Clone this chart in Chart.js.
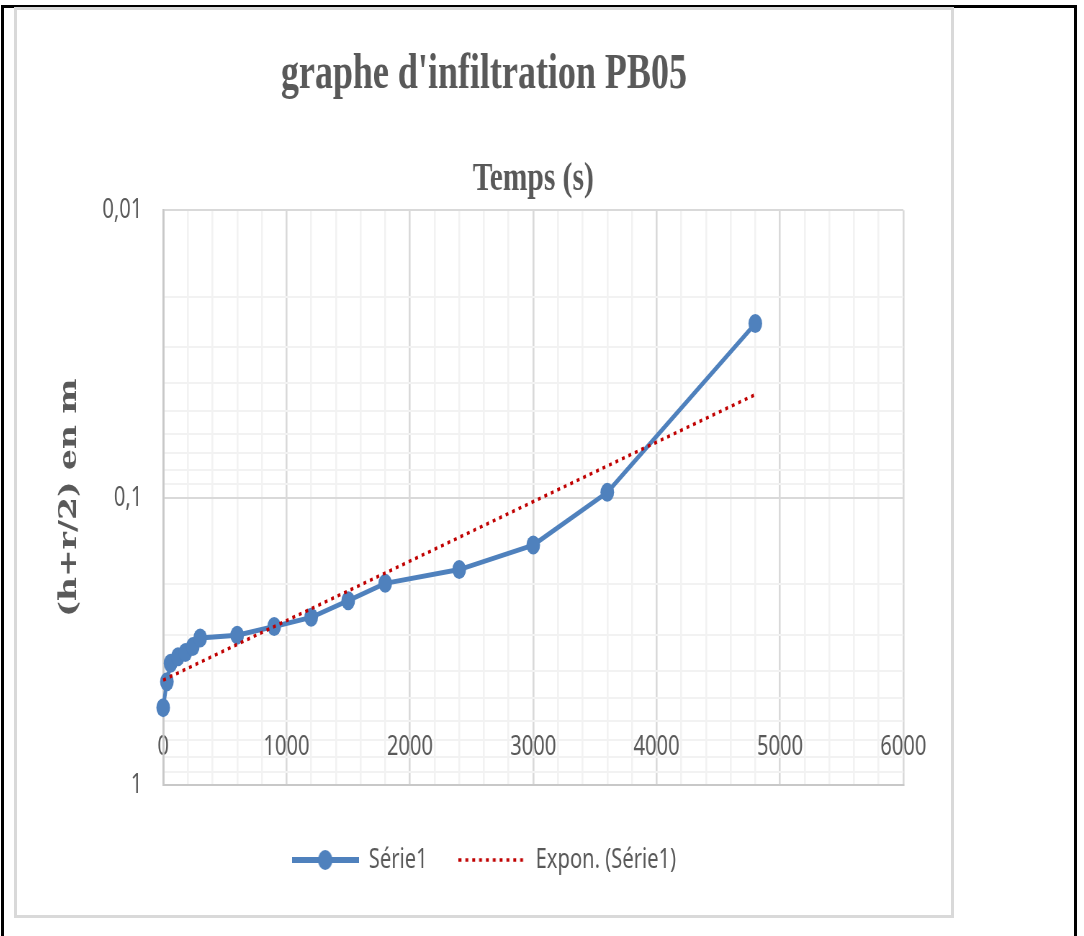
<!DOCTYPE html>
<html>
<head>
<meta charset="utf-8">
<script src="https://cdn.jsdelivr.net/npm/chart.js@4.4.1/dist/chart.umd.min.js"></script>
<style>
  html, body { margin: 0; padding: 0; background: #fff; }
  body { width: 1084px; height: 936px; position: relative; overflow: hidden; }
  .outer { position: absolute; left: 1px; top: 5px; width: 1076px; height: 960px; border: 3px solid #000; border-bottom: none; box-sizing: border-box; }
  .frame { position: absolute; left: 14px; top: 7px; width: 934px; height: 905px; border: 3px solid #d9d9d9; overflow: hidden; background: #fff; }
  #chart { transform: scaleX(0.72); transform-origin: 0 0; }
</style>
</head>
<body>
<div class="outer"></div>
<div class="frame"><canvas id="chart" width="1297" height="905" style="width:1297px;height:905px"></canvas></div>
<script>
// temps (s) et (h+r/2) en m
const temps = [0, 30, 60, 120, 180, 240, 300, 600, 900, 1200, 1500, 1800, 2400, 3000, 3600, 4800];
const hauteurs = [0.538, 0.437, 0.377, 0.358, 0.346, 0.33, 0.308, 0.301, 0.281, 0.261, 0.2285, 0.1988, 0.178, 0.1463, 0.0959, 0.0248];

// courbe de tendance exponentielle (extremites)
const tendanceTemps = [0, 4800];
const tendanceValeurs = [0.4315, 0.0438];

const yDecades = [0.01, 0.1, 1];
const yDecadeLabels = ['0,01', '0,1', '1'];
const yMinorSteps = [2, 3, 4, 5, 6, 7, 8, 9];

const grey = '#595959';
const blue = '#4F81BD';
const red = '#C00000';

// small legend symbols
function legendIcon(color, width, dash, markerRadius) {
    const c = document.createElement('canvas');
    c.width = 93;
    c.height = 26;
    const g = c.getContext('2d');
    g.strokeStyle = color;
    g.lineWidth = width;
    g.setLineDash(dash);
    g.beginPath();
    g.moveTo(0, 13);
    g.lineTo(93, 13);
    g.stroke();
    if (markerRadius) {
        g.fillStyle = color;
        g.beginPath();
        g.arc(46.5, 13, markerRadius, 0, Math.PI * 2);
        g.fill();
    }
    return c;
}
const serieIcon = legendIcon(blue, 6, [], 10);
const trendIcon = legendIcon(red, 3.5, [4, 5.5], 0);

const ctx = document.getElementById('chart').getContext('2d');

new Chart(ctx, {
    type: 'line',
    data: {
        datasets: [
            {
                label: 'Expon. (Série1)',
                data: tendanceTemps.map((t, i) => ({ x: t, y: tendanceValeurs[i] })),
                borderColor: red,
                borderWidth: 3.5,
                borderDash: [4, 5.5],
                pointRadius: 0,
                order: 0
            },
            {
                label: 'Série1',
                data: temps.map((t, i) => ({ x: t, y: hauteurs[i] })),
                borderColor: blue,
                backgroundColor: blue,
                borderWidth: 5,
                pointRadius: 9.5,
                pointBorderWidth: 0,
                order: 1
            }
        ]
    },
    options: {
        responsive: false,
        animation: false,
        devicePixelRatio: 1,
        clip: false,
        layout: { padding: { top: 5, right: 66, bottom: 31, left: 66 } },
        plugins: {
            title: {
                display: true,
                text: "graphe d'infiltration PB05",
                color: grey,
                font: { family: 'Liberation Serif', size: 50, weight: 'bold' },
                padding: { top: 30, bottom: 10 }
            },
            subtitle: {
                display: true,
                fullSize: false,
                text: 'Temps (s)',
                color: grey,
                font: { family: 'Liberation Serif', size: 41, weight: 'bold' },
                padding: { top: 40, bottom: 6 }
            },
            legend: {
                position: 'bottom',
                labels: {
                    usePointStyle: true,
                    pointStyleWidth: 93,
                    padding: 43,
                    color: grey,
                    font: { family: 'Noto Sans', size: 28 },
                    generateLabels: function () {
                        return [
                            { text: 'Série1', pointStyle: serieIcon, fontColor: grey, lineWidth: 1, strokeStyle: blue, fillStyle: blue, datasetIndex: 1 },
                            { text: 'Expon. (Série1)', pointStyle: trendIcon, fontColor: grey, lineWidth: 1, strokeStyle: red, fillStyle: red, datasetIndex: 0 }
                        ];
                    }
                }
            },
            tooltip: { enabled: false }
        },
        scales: {
            x: {
                type: 'linear',
                position: 'bottom',
                min: 0,
                max: 6000,
                afterFit: function (scale) { scale.height = 18; },
                ticks: {
                    stepSize: 200,
                    autoSkip: false,
                    maxRotation: 0,
                    mirror: true,
                    padding: 21,
                    color: grey,
                    font: { family: 'Noto Sans', size: 28 },
                    callback: function (value) { return value % 1000 === 0 ? String(value) : ''; }
                },
                grid: {
                    drawTicks: false,
                    lineWidth: 2.6,
                    color: function (c) { return c.tick && c.tick.value % 1000 === 0 ? '#D9D9D9' : '#F2F2F2'; }
                },
                border: { display: true, color: '#C8C8C8', width: 2 }
            },
            y: {
                type: 'logarithmic',
                reverse: true,
                min: 0.01,
                max: 1,
                afterFit: function (scale) { scale.width = 137; },
                afterBuildTicks: function (scale) {
                    const ticks = [];
                    yDecades.forEach(function (d, i) {
                        ticks.push({ value: d, major: true });
                        if (i < yDecades.length - 1) {
                            yMinorSteps.forEach(function (s) { ticks.push({ value: d * s, major: false }); });
                        }
                    });
                    scale.ticks = ticks;
                },
                ticks: {
                    autoSkip: false,
                    padding: 29,
                    color: grey,
                    font: { family: 'Noto Sans', size: 28 },
                    callback: function (value) {
                        const i = yDecades.findIndex(d => Math.abs(d - value) < d * 1e-6);
                        return i >= 0 ? yDecadeLabels[i] : '';
                    }
                },
                grid: {
                    drawTicks: false,
                    lineWidth: 2,
                    color: function (c) { return c.tick && c.tick.major ? '#D9D9D9' : '#F2F2F2'; }
                },
                border: { display: true, color: '#C8C8C8', width: 2.8 },
                title: {
                    display: true,
                    text: '(h+r/2) en m',
                    color: grey,
                    font: { family: 'DejaVu Serif', size: 33, weight: 'bold', lineHeight: 0.42 },
                    padding: { top: 0, bottom: 0 }
                }
            }
        }
    }
});
</script>
</body>
</html>
